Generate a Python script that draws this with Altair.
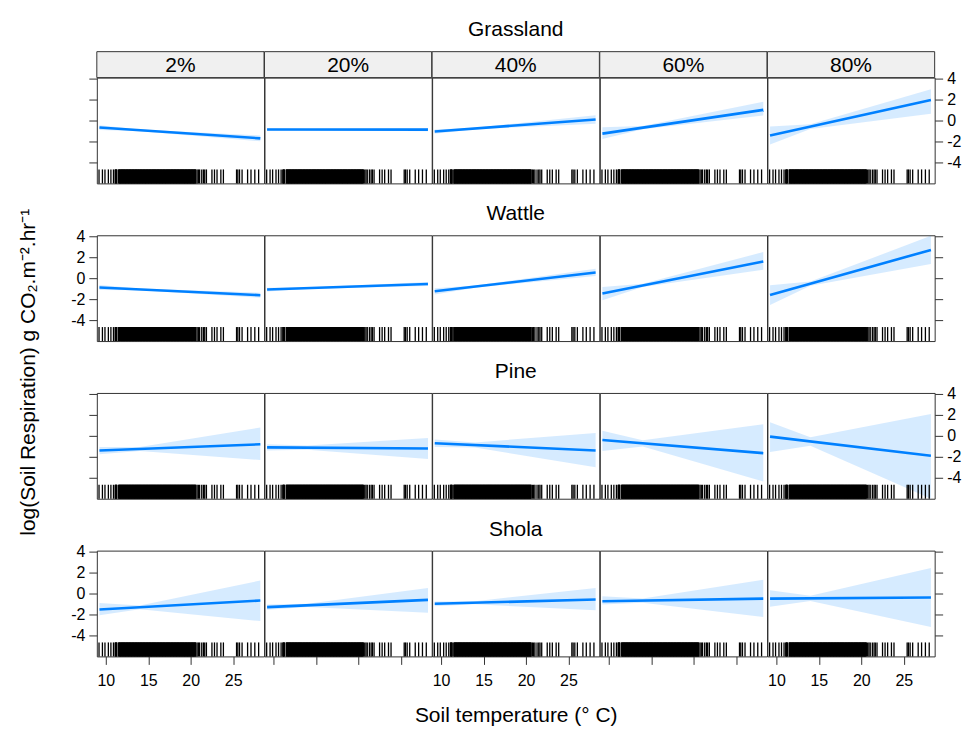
import altair as alt
import pandas as pd

# ---------------- data ----------------
sites = ["Grassland", "Wattle", "Pine", "Shola"]
moisture = ["2%", "20%", "40%", "60%", "80%"]

x_ticks = [10, 15, 20, 25]
y_ticks = [-4, -2, 0, 2, 4]

# x positions of the fitted line ends and of the band read-off points
fit_x = [9.25, 28.2]
band_x = [9.25, 14.0, 28.2]

# fitted line values (start, end) for each moisture level
grassland_fit = [(-0.67, -1.70), (-0.85, -0.87), (-1.05, 0.10), (-1.25, 1.02), (-1.43, 1.97)]
wattle_fit = [(-0.89, -1.62), (-1.08, -0.55), (-1.25, 0.55), (-1.45, 1.60), (-1.60, 2.70)]
pine_fit = [(-1.40, -0.80), (-1.10, -1.20), (-0.70, -1.39), (-0.40, -1.65), (-0.07, -1.90)]
shola_fit = [(-1.52, -0.67), (-1.30, -0.60), (-0.98, -0.57), (-0.73, -0.48), (-0.48, -0.38)]

# confidence band, upper and lower, at band_x
grassland_upper = [(-0.45, -0.85, -1.42), (-0.72, -0.80, -0.72), (-0.85, -0.68, 0.50), (-0.63, -0.52, 1.80), (-0.57, -0.36, 3.00)]
grassland_lower = [(-0.90, -1.01, -1.98), (-0.98, -0.90, -1.02), (-1.27, -0.84, -0.30), (-1.75, -0.84, 0.48), (-2.29, -0.80, 0.64)]
wattle_upper = [(-0.65, -0.98, -1.38), (-0.90, -0.88, -0.35), (-0.95, -0.70, 0.90), (-0.85, -0.53, 2.50), (-0.67, -0.32, 4.05)]
wattle_lower = [(-1.13, -1.16, -1.86), (-1.26, -1.02, -0.75), (-1.55, -0.90, 0.20), (-2.10, -0.85, 0.80), (-2.55, -0.72, 1.35)]
pine_upper = [(-1.05, -1.05, 0.80), (-0.80, -0.92, -0.20), (-0.35, -0.62, 0.27), (0.50, -0.41, 1.10), (1.30, -0.13, 2.10)]
pine_lower = [(-1.75, -1.45, -2.30), (-1.40, -1.32, -2.20), (-1.05, -1.12, -3.00), (-1.45, -1.01, -4.35), (-1.55, -0.93, -6.00)]
shola_upper = [(-0.89, -1.13, 1.24), (-1.05, -0.98, 0.54), (-0.75, -0.73, 0.54), (-0.25, -0.47, 1.33), (0.32, -0.21, 2.45)]
shola_lower = [(-2.06, -1.49, -2.63), (-1.55, -1.28, -1.84), (-1.21, -1.03, -1.59), (-1.05, -0.87, -2.25), (-1.27, -0.71, -3.20)]

# soil temperature observations (rug)
rug_temps = [
    9.2, 9.6, 9.9, 10.3, 10.6, 10.9,
    11.1, 11.15, 11.2, 11.25, 11.3, 11.5, 11.55, 11.6, 11.65, 11.7, 11.75, 11.8, 11.85, 11.9, 11.95,
    12.0, 12.05, 12.1, 12.15, 12.2, 12.25, 12.3, 12.35, 12.4, 12.45, 12.5, 12.55, 12.6, 12.65, 12.7, 12.75, 12.8, 12.85, 12.9, 12.95,
    13.0, 13.05, 13.1, 13.15, 13.2, 13.25, 13.3, 13.35, 13.4, 13.45, 13.5, 13.55, 13.6, 13.65, 13.7, 13.75, 13.8, 13.85, 13.9, 13.95,
    14.0, 14.05, 14.1, 14.15, 14.2, 14.25, 14.3, 14.35, 14.4, 14.45, 14.5, 14.55, 14.6, 14.65, 14.7, 14.75, 14.8, 14.85, 14.9, 14.95,
    15.0, 15.05, 15.1, 15.15, 15.2, 15.25, 15.3, 15.35, 15.4, 15.45, 15.5, 15.55, 15.6, 15.65, 15.7, 15.75, 15.8, 15.85, 15.9, 15.95,
    16.0, 16.05, 16.1, 16.15, 16.2, 16.25, 16.3, 16.35, 16.4, 16.45, 16.5, 16.55, 16.6, 16.65, 16.7, 16.75, 16.8, 16.85, 16.9, 16.95,
    17.0, 17.05, 17.1, 17.15, 17.2, 17.25, 17.3, 17.35, 17.4, 17.45, 17.5, 17.55, 17.6, 17.65, 17.7, 17.75, 17.8, 17.85, 17.9, 17.95,
    18.0, 18.05, 18.1, 18.15, 18.2, 18.25, 18.3, 18.35, 18.4, 18.45, 18.5, 18.55, 18.6, 18.65, 18.7, 18.75, 18.8, 18.85, 18.9, 18.95,
    19.0, 19.05, 19.1, 19.15, 19.2, 19.25, 19.3, 19.35, 19.4, 19.45, 19.5, 19.55, 19.6, 19.65, 19.7, 19.75, 19.8, 19.85, 19.9, 19.95,
    20.0, 20.05, 20.1, 20.15, 20.2, 20.25, 20.3, 20.35, 20.4, 20.45, 20.5, 20.55, 20.6,
    20.75, 20.9, 21.05, 21.3, 21.5, 21.65, 21.85,
    22.5, 22.8, 23.1, 23.55, 23.85,
    25.4, 25.55, 25.75, 26.05, 26.7, 27.1, 27.55, 28.0,
]

fits = [grassland_fit, wattle_fit, pine_fit, shola_fit]
uppers = [grassland_upper, wattle_upper, pine_upper, shola_upper]
lowers = [grassland_lower, wattle_lower, pine_lower, shola_lower]

# ---------------- styling ----------------
X_DOMAIN = [8.94, 28.64]
Y_DOMAIN = [-6.0, 4.1]
W, H = 167.6, 106
FONT = "Liberation Sans"
INK = "#333333"
BLUE = "#0080ff"
TITLE_SIZE = 21

xscale = alt.Scale(domain=X_DOMAIN, nice=False, zero=False)
yscale = alt.Scale(domain=Y_DOMAIN, nice=False, zero=False)
LABEL_EXPR = "'' + datum.value"


def make_panel(r, c):
    line_df = pd.DataFrame({"temp": fit_x, "resp": list(fits[r][c])})
    band_df = pd.DataFrame({"temp": band_x, "lo": list(lowers[r][c]), "hi": list(uppers[r][c])})
    rug_df = pd.DataFrame({"temp": rug_temps})

    if r == 3:
        if c == 2:
            x_axis = alt.Axis(orient="bottom", values=x_ticks, labels=True, labelExpr=LABEL_EXPR,
                              labelPadding=8, title="Soil temperature (° C)", titlePadding=16)
        else:
            x_axis = alt.Axis(orient="bottom", values=x_ticks, labels=(c % 2 == 0),
                              labelExpr=LABEL_EXPR, labelPadding=8, title=None)
    else:
        x_axis = None

    if c == 0:
        y_axis = alt.Axis(orient="left", values=y_ticks, labels=(r % 2 == 1), labelExpr=LABEL_EXPR, title=None)
    elif c == 4:
        y_axis = alt.Axis(orient="right", values=y_ticks, labels=(r % 2 == 0), labelExpr=LABEL_EXPR, title=None)
    else:
        y_axis = None

    X = alt.X("temp:Q", scale=xscale, axis=x_axis)

    band = alt.Chart(band_df).mark_area(color=BLUE, opacity=0.16, clip=True).encode(
        x=X, y=alt.Y("lo:Q", scale=yscale, axis=y_axis), y2="hi:Q"
    )
    line = alt.Chart(line_df).mark_line(color=BLUE, strokeWidth=2.6, clip=True).encode(
        x=X, y=alt.Y("resp:Q", scale=yscale, axis=y_axis)
    )
    rug = alt.Chart(rug_df).mark_rule(color="black", strokeWidth=1.3).encode(
        x=X, y=alt.value(H - 14), y2=alt.value(H)
    )
    layers = [band, line, rug]

    if r == 0:
        strip_df = pd.DataFrame({"label": [moisture[c]]})
        rect = alt.Chart(strip_df).mark_rect(fill="#f0f0f0", stroke=INK, strokeWidth=1).encode(
            x=alt.value(0), x2=alt.value(W), y=alt.value(-26), y2=alt.value(0)
        )
        text = alt.Chart(strip_df).mark_text(font=FONT, fontSize=TITLE_SIZE, color="black", baseline="middle").encode(
            x=alt.value(W / 2), y=alt.value(-12), text="label:N"
        )
        layers += [rect, text]

    chart = alt.layer(*layers)
    if c == 2:
        chart = chart.properties(
            width=W, height=H,
            title=alt.TitleParams(sites[r], font=FONT, fontSize=TITLE_SIZE, fontWeight="normal", color="black",
                                  anchor="middle", frame="bounds", offset=11),
        )
    else:
        chart = chart.properties(width=W, height=H)
    return chart


panels = [make_panel(r, c) for r in range(4) for c in range(5)]

chart = alt.concat(
    *panels, columns=5, spacing={"row": 52, "column": 0}, bounds="flush"
).properties(
    padding={"left": 10, "top": 10, "right": 0, "bottom": 0},
    title=alt.TitleParams("log(Soil Respiration) g CO₂.m⁻².hr⁻¹", orient="left", anchor="middle",
                          font=FONT, fontSize=TITLE_SIZE, fontWeight="normal", color="black", offset=31),
).configure_view(
    stroke=INK, strokeWidth=1
).configure_axis(
    domain=False, grid=False, tickColor=INK, tickSize=8, tickWidth=1,
    labelFont=FONT, labelFontSize=16, labelColor="black", labelPadding=4,
    titleFont=FONT, titleFontSize=TITLE_SIZE, titleFontWeight="normal", titleColor="black",
)

chart.save("out.html", embed_options={"renderer": "svg", "actions": False})
